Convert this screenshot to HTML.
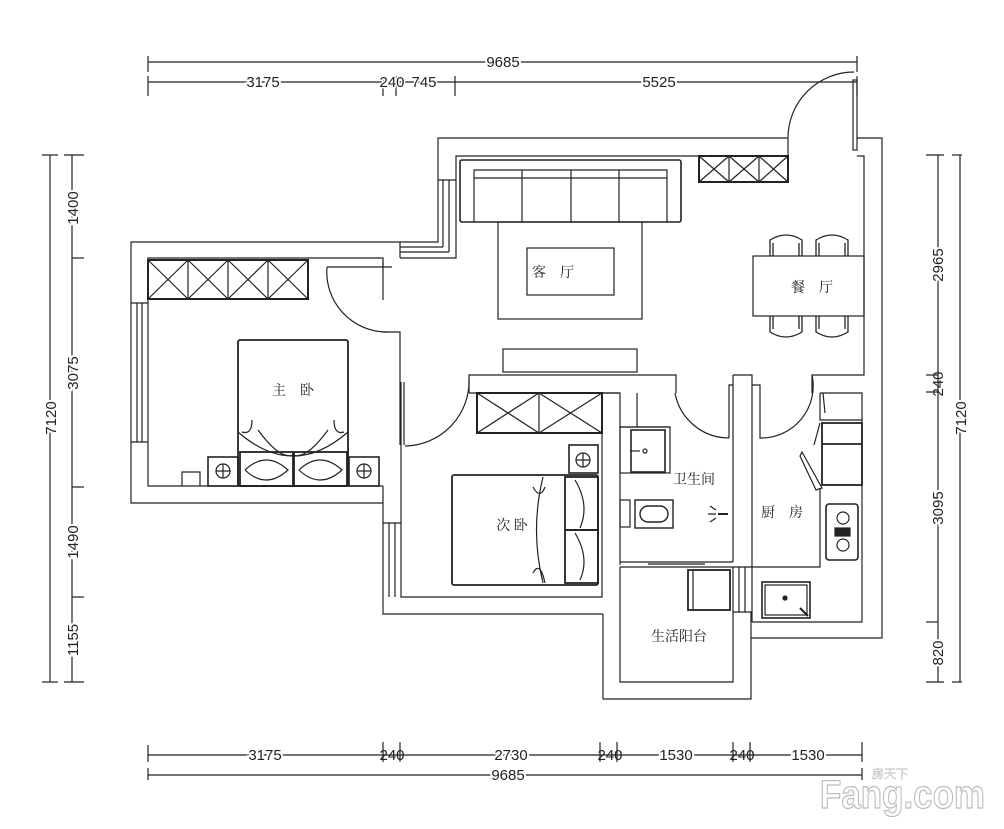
<!DOCTYPE html>
<html><head><meta charset="utf-8"><style>
html,body{margin:0;padding:0;background:#fff;}
svg{display:block;}
text{font-family:"Liberation Sans","Noto Sans CJK SC",sans-serif;fill:#222;}
.cn{font-family:"Liberation Serif","Noto Serif CJK SC","Noto Sans CJK SC",serif;font-size:14px;}
</style></head><body>
<svg width="1004" height="829" viewBox="0 0 1004 829" xmlns="http://www.w3.org/2000/svg">
<g fill="none" stroke="#222" stroke-width="1.2">
<line x1="148" y1="62" x2="857" y2="62"/><line x1="148" y1="56" x2="148" y2="72"/><line x1="857" y1="56" x2="857" y2="72"/>
<line x1="148" y1="82" x2="857" y2="82"/>
<line x1="148" y1="76" x2="148" y2="96"/><line x1="383" y1="76" x2="383" y2="96"/><line x1="396" y1="76" x2="396" y2="96"/><line x1="455" y1="76" x2="455" y2="96"/><line x1="857" y1="76" x2="857" y2="96"/>
<line x1="148" y1="755" x2="862" y2="755"/>
<line x1="148" y1="745" x2="148" y2="762"/><line x1="383" y1="742" x2="383" y2="762"/><line x1="400" y1="742" x2="400" y2="762"/><line x1="600" y1="742" x2="600" y2="762"/><line x1="617" y1="742" x2="617" y2="762"/><line x1="733" y1="742" x2="733" y2="762"/><line x1="750" y1="742" x2="750" y2="762"/><line x1="862" y1="742" x2="862" y2="762"/>
<line x1="148" y1="775" x2="862" y2="775"/><line x1="148" y1="768" x2="148" y2="780"/><line x1="862" y1="768" x2="862" y2="780"/>
<line x1="50" y1="155" x2="50" y2="682"/><line x1="42" y1="155" x2="58" y2="155"/><line x1="42" y1="682" x2="58" y2="682"/>
<line x1="72" y1="155" x2="72" y2="682"/>
<line x1="64" y1="155" x2="84" y2="155"/><line x1="72" y1="258" x2="84" y2="258"/><line x1="72" y1="487" x2="84" y2="487"/><line x1="72" y1="597" x2="84" y2="597"/><line x1="64" y1="682" x2="84" y2="682"/>
<line x1="938" y1="155" x2="938" y2="682"/><line x1="926" y1="155" x2="944" y2="155"/><line x1="926" y1="682" x2="944" y2="682"/>
<line x1="926" y1="375" x2="938" y2="375"/><line x1="926" y1="392" x2="938" y2="392"/><line x1="926" y1="622" x2="938" y2="622"/>
<line x1="960" y1="155" x2="960" y2="682"/><line x1="952" y1="155" x2="962" y2="155"/><line x1="952" y1="682" x2="962" y2="682"/>

<polyline points="400,258 400,242 131,242 131,503 383,503"/>
<polyline points="383,300 383,258 148,258 148,486 383,486"/>
<line x1="131" y1="303" x2="148" y2="303"/><line x1="131" y1="442" x2="148" y2="442"/>
<line x1="137" y1="303" x2="137" y2="442"/><line x1="142" y1="303" x2="142" y2="442"/>
<polyline points="182,486 182,472 200,472 200,486"/>
<polyline points="400,242 438,242 438,138 788,138"/>
<polyline points="400,258 456,258 456,156 788,156"/>
<line x1="400" y1="247" x2="443" y2="247"/><line x1="443" y1="247" x2="443" y2="180"/>
<line x1="400" y1="252" x2="449" y2="252"/><line x1="449" y1="252" x2="449" y2="180"/>
<line x1="438" y1="180" x2="456" y2="180"/>
<path d="M327,267 L392,267 M383,267 L383,262 M327,267 A60,60 0 0 0 387,332"/>
<polyline points="383,332 400,332 400,375"/>
<polyline points="383,486 383,503"/>
<polyline points="383,503 383,614 603,614"/>
<polyline points="401,382 401,597 602,597 602,393"/>
<line x1="400" y1="375" x2="400" y2="445"/><line x1="404" y1="382" x2="404" y2="445"/>
<line x1="383" y1="523" x2="401" y2="523"/><line x1="389" y1="523" x2="389" y2="597"/><line x1="395" y1="523" x2="395" y2="597"/>
<path d="M405,446 A65,65 0 0 0 469,378"/>
<polyline points="469,393 469,375 676,375 676,393"/>
<line x1="469" y1="393" x2="620" y2="393"/>
<rect x="503" y="349" width="134" height="23"/>
<rect x="477" y="393" width="125" height="40" stroke-width="2"/>
<path d="M477,393 L539,433 M539,393 L477,433 M539,393 L602,433 M602,393 L539,433 M539,393 L539,433"/>
<rect x="452" y="475" width="146" height="110" rx="2" stroke-width="1.8"/>
<rect x="565" y="477" width="33" height="53" stroke-width="1.8"/><rect x="565" y="530" width="33" height="53" stroke-width="1.8"/>
<path d="M543,477 Q530,530 543,583 M533,487 Q540,500 545,487 M533,573 Q540,560 545,583"/>
<path d="M575,480 Q590,505 580,528 M575,533 Q590,558 580,580"/>
<rect x="569" y="445" width="29" height="28" stroke-width="1.6"/><circle cx="583" cy="460" r="7"/><path d="M576,460 H590 M583,453 V467"/>
<rect x="148" y="260" width="160" height="39" stroke-width="2"/>
<path d="M188,260 V299 M228,260 V299 M268,260 V299 M148,260 L188,299 M188,260 L148,299 M188,260 L228,299 M228,260 L188,299 M228,260 L268,299 M268,260 L228,299 M268,260 L308,299 M308,260 L268,299"/>
<rect x="238" y="340" width="110" height="146" rx="2" stroke-width="1.8"/>
<path d="M238,432 Q293,480 348,432 M252,420 Q252,435 242,432 M334,420 Q334,435 344,432 M258,430 Q280,460 293,455 M328,430 Q306,460 293,455"/>
<rect x="240" y="452" width="53" height="34" stroke-width="1.8"/><rect x="294" y="452" width="53" height="34" stroke-width="1.8"/>
<path d="M245,470 Q266,450 288,470 Q266,490 245,470 M299,470 Q320,450 342,470 Q320,490 299,470"/>
<rect x="208" y="457" width="30" height="29" stroke-width="1.6"/><circle cx="223" cy="471" r="7"/><path d="M216,471 H230 M223,464 V478"/>
<rect x="349" y="457" width="30" height="29" stroke-width="1.6"/><circle cx="364" cy="471" r="7"/><path d="M357,471 H371 M364,464 V478"/>

<rect x="460" y="160" width="221" height="62" rx="2" stroke-width="1.6"/>
<path d="M474,222 V170 H667 V222 M474,178 H667 M522,170 V222 M571,170 V222 M619,170 V222"/>
<rect x="498" y="222" width="144" height="97"/>
<rect x="527" y="248" width="87" height="47"/>
<rect x="699" y="156" width="89" height="26" stroke-width="2"/>
<path d="M729,156 V182 M759,156 V182 M699,156 L729,182 M729,156 L699,182 M729,156 L759,182 M759,156 L729,182 M759,156 L788,182 M788,156 L759,182"/>
<path d="M788,156 V138 A66,66 0 0 1 854,72"/>
<rect x="853" y="80" width="4" height="70"/>
<polyline points="857,156 864,156 864,375 812,375 812,393"/>
<polyline points="857,138 882,138 882,638 751,638"/>
<rect x="753" y="256" width="111" height="60"/>
<g stroke-width="1.3">
<path d="M770,256 V240 Q786,230 802,240 V256 M773,256 V243 M799,256 V243"/>
<path d="M816,256 V240 Q832,230 848,240 V256 M819,256 V243 M845,256 V243"/>
<path d="M770,316 V332 Q786,342 802,332 V316 M773,316 V329 M799,316 V329"/>
<path d="M816,316 V332 Q832,342 848,332 V316 M819,316 V329 M845,316 V329"/>
</g>
<polyline points="602,393 620,393 620,565"/>
<line x1="603" y1="614" x2="603" y2="699"/>
<polyline points="620,567 620,682 733,682 733,567"/>
<polyline points="603,699 751,699 751,612"/>
<line x1="620" y1="562" x2="733" y2="562"/><line x1="620" y1="567" x2="733" y2="567"/>
<line x1="648" y1="564" x2="705" y2="564"/>
<path d="M675,393 A55,55 0 0 0 729,438"/>
<polyline points="729,438 729,385 733,385"/>
<polyline points="733,375 752,375 752,393"/>
<line x1="733" y1="375" x2="733" y2="562"/>
<line x1="752" y1="393" x2="752" y2="622"/>
<line x1="733" y1="567" x2="752" y2="567"/><line x1="733" y1="612" x2="752" y2="612"/>
<line x1="739" y1="567" x2="739" y2="612"/><line x1="745" y1="567" x2="745" y2="612"/>
<line x1="620" y1="427" x2="670" y2="427"/><line x1="637" y1="393" x2="637" y2="427"/>
<rect x="620" y="427" width="50" height="46"/><rect x="631" y="430" width="34" height="42" stroke-width="1.6"/>
<path d="M630,451 H640"/><circle cx="645" cy="451" r="2"/>
<rect x="620" y="500" width="10" height="27"/>
<rect x="635" y="500" width="38" height="28" stroke-width="1.4"/>
<rect x="640" y="506" width="28" height="16" rx="8" stroke-width="1.4"/>
<path d="M728,514 L718,514" stroke-width="2"/><path d="M716,510 L710,506 M716,514 L708,514 M716,518 L710,522"/>
<rect x="688" y="570" width="42" height="40" stroke-width="1.8"/><line x1="693" y1="570" x2="693" y2="610"/>
<path d="M812,375 A52,52 0 0 1 760,438 V385 H752"/>
<polyline points="752,622 862,622 862,393 820,393"/>
<polyline points="820,393 820,420 862,420"/>
<line x1="823" y1="393" x2="825" y2="413"/>
<rect x="822" y="423" width="40" height="62" stroke-width="1.8"/><line x1="822" y1="444" x2="862" y2="444" stroke-width="1.8"/>
<path d="M820,423 L814,445 M802,452 L822,488 L816,490 L800,456 Z"/>
<polyline points="820,488 820,567 752,567"/>
<rect x="826" y="504" width="32" height="56" rx="3" stroke-width="1.6"/>
<circle cx="843" cy="518" r="6"/><circle cx="843" cy="545" r="6"/>
<rect x="835" y="528" width="15" height="8" fill="#222"/>
<rect x="762" y="582" width="48" height="36" stroke-width="1.6"/><rect x="765" y="585" width="42" height="30"/>
<circle cx="785" cy="598" r="2" fill="#222"/><line x1="800" y1="608" x2="808" y2="616" stroke-width="2"/>
</g>
<g font-size="15" text-anchor="middle">
<text x="503" y="67" stroke="#fff" stroke-width="4" paint-order="stroke">9685</text>
<text x="263" y="87" stroke="#fff" stroke-width="4" paint-order="stroke">3175</text>
<text x="392" y="87" stroke="#fff" stroke-width="3" paint-order="stroke">240</text>
<text x="424" y="87" stroke="#fff" stroke-width="3" paint-order="stroke">745</text>
<text x="659" y="87" stroke="#fff" stroke-width="4" paint-order="stroke">5525</text>
<text x="265" y="760" stroke="#fff" stroke-width="4" paint-order="stroke">3175</text>
<text x="392" y="760">240</text>
<text x="511" y="760" stroke="#fff" stroke-width="4" paint-order="stroke">2730</text>
<text x="610" y="760">240</text>
<text x="676" y="760" stroke="#fff" stroke-width="4" paint-order="stroke">1530</text>
<text x="742" y="760">240</text>
<text x="808" y="760" stroke="#fff" stroke-width="4" paint-order="stroke">1530</text>
<text x="508" y="780" stroke="#fff" stroke-width="4" paint-order="stroke">9685</text>
<text transform="translate(56,418) rotate(-90)" stroke="#fff" stroke-width="4" paint-order="stroke">7120</text>
<text transform="translate(78,208) rotate(-90)" stroke="#fff" stroke-width="4" paint-order="stroke">1400</text>
<text transform="translate(78,373) rotate(-90)" stroke="#fff" stroke-width="4" paint-order="stroke">3075</text>
<text transform="translate(78,542) rotate(-90)" stroke="#fff" stroke-width="4" paint-order="stroke">1490</text>
<text transform="translate(78,640) rotate(-90)" stroke="#fff" stroke-width="4" paint-order="stroke">1155</text>
<text transform="translate(943,265) rotate(-90)" stroke="#fff" stroke-width="4" paint-order="stroke">2965</text>
<text transform="translate(943,384) rotate(-90)">240</text>
<text transform="translate(943,508) rotate(-90)" stroke="#fff" stroke-width="4" paint-order="stroke">3095</text>
<text transform="translate(943,653) rotate(-90)" stroke="#fff" stroke-width="4" paint-order="stroke">820</text>
<text transform="translate(966,418) rotate(-90)" stroke="#fff" stroke-width="4" paint-order="stroke">7120</text>
</g>
<g class="cn" text-anchor="middle">
<text x="553" y="277" class="cn">客　厅</text>
<text x="812" y="292" class="cn">餐　厅</text>
<text x="293" y="395" class="cn">主　卧</text>
<text x="512" y="530" class="cn">次 卧</text>
<text x="694" y="484" class="cn">卫生间</text>
<text x="782" y="517" class="cn">厨　房</text>
<text x="679" y="641" class="cn">生活阳台</text>
</g>
<text x="820" y="808" font-size="40" font-weight="bold" textLength="165" lengthAdjust="spacingAndGlyphs" style="fill:#fff;stroke:#bbb;stroke-width:1.2px">Fang.com</text>
<text x="872" y="778" font-size="12" style="fill:#fff;stroke:#bbb;stroke-width:0.5px;font-family:'Noto Sans CJK SC',sans-serif">房天下</text>
</svg>
</body></html>
